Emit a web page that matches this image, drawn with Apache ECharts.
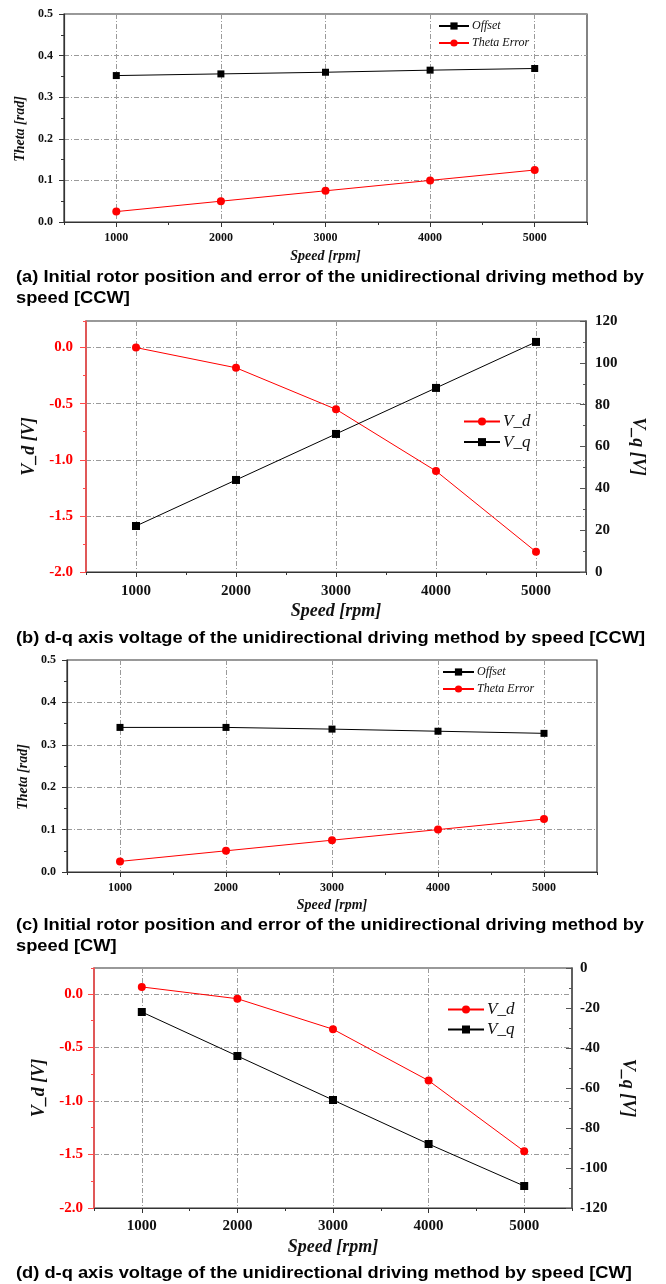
<!DOCTYPE html>
<html><head><meta charset="utf-8">
<script src="https://cdn.jsdelivr.net/npm/echarts@6/dist/echarts.min.js"></script>
<style>html,body{margin:0;padding:0;background:#fff}#c{width:666px;height:1284px}</style>
</head><body><div id="c"></div>
<script>
// ---- data ----
const speeds = [1000, 2000, 3000, 4000, 5000];
const xTicks = [1000, 2000, 3000, 4000, 5000];
const offsetCCW = [0.352, 0.356, 0.360, 0.365, 0.369];
const thetaErrCCW = [0.025, 0.050, 0.075, 0.100, 0.125];
const vdCCW = [0.0, -0.18, -0.55, -1.10, -1.82];
const vqCCW = [22, 44, 66, 88, 110];
const offsetCW = [0.341, 0.341, 0.337, 0.332, 0.327];
const thetaErrCW = [0.025, 0.050, 0.075, 0.100, 0.125];
const vdCW = [0.065, -0.045, -0.33, -0.81, -1.47];
const vqCW = [-22, -44, -66, -88, -109];
const captionA1 = '(a) Initial rotor position and error of the unidirectional driving method by';
const captionA2 = 'speed [CCW]';
const captionB = '(b) d-q axis voltage of the unidirectional driving method by speed [CCW]';
const captionC1 = '(c) Initial rotor position and error of the unidirectional driving method by';
const captionC2 = 'speed [CW]';
const captionD = '(d) d-q axis voltage of the unidirectional driving method by speed [CW]';

const pairs = (ys) => speeds.map((s, i) => [s, ys[i]]);
const SERIF = '"Liberation Serif", "Times New Roman", serif';
const RED = '#ff0000';
const GRIDC = '#9a9a9a';
const dashT = [5, 2, 1, 2];

// caption horizontal condensing
const cv = document.createElement('canvas').getContext('2d');
const capFont = 'bold 17px "Liberation Sans", Arial, sans-serif';
cv.font = capFont;
const capScale = 629 / cv.measureText(captionB).width;

function mainX(gi, fs, margin, nameGap, nameFs) {
  return {
    type: 'value', gridIndex: gi, position: 'bottom', min: 500, max: 5500,
    axisLine: {show: true, onZero: false, lineStyle: {color: '#333', width: 1.2}},
    axisTick: {show: true, customValues: xTicks, length: 5, lineStyle: {color: '#333'}},
    axisLabel: {customValues: xTicks, formatter: v => String(v), margin: margin, color: '#111', fontFamily: SERIF, fontWeight: 'bold', fontSize: fs},
    splitLine: {show: true, lineStyle: {color: GRIDC, type: dashT, width: 1}},
    name: 'Speed [rpm]', nameLocation: 'middle', nameGap: nameGap,
    nameTextStyle: {fontFamily: SERIF, fontWeight: 'bold', fontStyle: 'italic', fontSize: nameFs, color: '#111'}
  };
}
function minorX(gi) {
  return {
    type: 'value', gridIndex: gi, position: 'bottom', min: 500, max: 5500, interval: 500,
    axisLine: {show: false, onZero: false}, axisLabel: {show: false}, splitLine: {show: false},
    axisTick: {show: true, length: 3, lineStyle: {color: '#333'}}
  };
}
function thetaY(gi, nameGap) {
  return {
    type: 'value', gridIndex: gi, position: 'left', min: 0, max: 0.5, interval: 0.1,
    axisLine: {show: true, onZero: false, lineStyle: {color: '#333', width: 1.2}},
    axisTick: {show: true, length: 5, lineStyle: {color: '#333'}},
    minorTick: {show: true, splitNumber: 2, length: 3, lineStyle: {color: '#333'}},
    axisLabel: {formatter: v => v.toFixed(1), margin: 11, color: '#111', fontFamily: SERIF, fontWeight: 'bold', fontSize: 12},
    splitLine: {show: true, lineStyle: {color: GRIDC, type: dashT, width: 1}},
    name: 'Theta [rad]', nameLocation: 'middle', nameGap: nameGap,
    nameTextStyle: {fontFamily: SERIF, fontWeight: 'bold', fontStyle: 'italic', fontSize: 14, color: '#111', padding: [0, 22, 0, 0]}
  };
}
function vdY(gi, mx, margin, nameGap) {
  return {
    type: 'value', gridIndex: gi, position: 'left', min: -2, max: mx, interval: 0.5,
    axisLine: {show: true, onZero: false, lineStyle: {color: '#ff4a4a', width: 1.5}},
    axisTick: {show: true, length: 6, lineStyle: {color: '#ff4a4a'}},
    axisLabel: {formatter: v => v.toFixed(1), showMaxLabel: false, margin: margin, color: RED, fontFamily: SERIF, fontWeight: 'bold', fontSize: 15},
    splitLine: {show: true, lineStyle: {color: GRIDC, type: dashT, width: 1}},
    name: 'V_d [V]', nameLocation: 'middle', nameGap: nameGap,
    nameTextStyle: {fontFamily: SERIF, fontWeight: 'bold', fontStyle: 'italic', fontSize: 18, color: '#111'}
  };
}
function vdMinorY(gi, mx) {
  return {
    type: 'value', gridIndex: gi, position: 'left', min: -2, max: mx, interval: 0.25,
    axisLine: {show: false, onZero: false}, axisLabel: {show: false}, splitLine: {show: false},
    axisTick: {show: true, length: 3, lineStyle: {color: '#ff4a4a'}}
  };
}
function vqY(gi, mn, mx, margin, nameGap) {
  return {
    type: 'value', gridIndex: gi, position: 'right', min: mn, max: mx, interval: 20,
    axisLine: {show: true, onZero: false, lineStyle: {color: '#555', width: 1.5}},
    axisTick: {show: true, inside: true, length: 6, lineStyle: {color: '#555'}},
    minorTick: {show: true, splitNumber: 2, length: 3, lineStyle: {color: '#555'}},
    axisLabel: {margin: margin, color: '#111', fontFamily: SERIF, fontWeight: 'bold', fontSize: 15},
    splitLine: {show: false},
    name: 'V_q [V]', nameLocation: 'middle', nameGap: nameGap, nameRotate: -90,
    nameTextStyle: {fontFamily: SERIF, fontWeight: 'bold', fontStyle: 'italic', fontSize: 18, color: '#111'}
  };
}
function ser(name, xi, yi, data, color, symbol, size) {
  return {
    name: name, type: 'line', xAxisIndex: xi, yAxisIndex: yi, data: pairs(data),
    symbol: symbol, symbolSize: size, showSymbol: true,
    lineStyle: {color: color, width: 1}, itemStyle: {color: color},
    emphasis: {disabled: true}, animation: false
  };
}
function legend(names, left, top, itemW, itemH, gap, fs) {
  return {
    data: names, orient: 'vertical', left: left, top: top, itemWidth: itemW, itemHeight: itemH, itemGap: gap,
    padding: 0, selectedMode: false,
    textStyle: {fontFamily: SERIF, fontStyle: 'italic', fontSize: fs, color: '#111', padding: [0, 0, 0, -2]}
  };
}
function cap(text, y) {
  return {
    type: 'text', x: 16, y: y, scaleX: capScale, scaleY: 1, silent: true,
    style: {text: text, font: capFont, fill: '#000', textVerticalAlign: 'middle', verticalAlign: 'middle'}
  };
}
const gridBase = {show: true, borderColor: '#333', borderWidth: 1.2, backgroundColor: 'transparent', containLabel: false, outerBoundsMode: 'none'};

const option = {
  animation: false,
  backgroundColor: '#fff',
  grid: [
    Object.assign({left: 64, top: 14, width: 523, height: 208}, gridBase),
    Object.assign({left: 86, top: 321, width: 500, height: 251}, gridBase),
    Object.assign({left: 67, top: 660, width: 530, height: 212}, gridBase),
    Object.assign({left: 94, top: 968, width: 478, height: 240}, gridBase)
  ],
  xAxis: [
    mainX(0, 12, 10, 27, 14), minorX(0),
    mainX(1, 15, 12, 30, 18), minorX(1),
    mainX(2, 12, 10, 26, 14), minorX(2),
    mainX(3, 15, 11, 30, 18), minorX(3)
  ],
  yAxis: [
    thetaY(0, 36),
    vdY(1, 0.237, 13, 46), vqY(1, 0, 120, 9, 43),
    thetaY(2, 37),
    vdY(3, 0.242, 11, 45), vqY(3, -120, 0, 8, 44),
    vdMinorY(1, 0.237), vdMinorY(3, 0.242)
  ],
  legend: [
    legend(['Offset', 'Theta Error'], 438, 20, 30, 9, 5, 12),
    legend(['V_d', 'V_q'], 463, 413, 36, 10, 3.6, 17),
    legend(['Offset', 'Theta Error'], 442, 666, 31, 9, 5, 12),
    legend(['V_d', 'V_q'], 447, 1001, 36, 10, 3, 17)
  ],
  series: [
    ser('Offset', 0, 0, offsetCCW, '#000', 'rect', 7),
    ser('Theta Error', 0, 0, thetaErrCCW, RED, 'circle', 8),
    ser('V_d', 2, 1, vdCCW, RED, 'circle', 8),
    ser('V_q', 2, 2, vqCCW, '#000', 'rect', 8),
    ser('Offset', 4, 3, offsetCW, '#000', 'rect', 7),
    ser('Theta Error', 4, 3, thetaErrCW, RED, 'circle', 8),
    ser('V_d', 6, 4, vdCW, RED, 'circle', 8),
    ser('V_q', 6, 5, vqCW, '#000', 'rect', 8)
  ],
  graphic: [
    cap(captionA1, 277), cap(captionA2, 298),
    cap(captionB, 638),
    cap(captionC1, 925), cap(captionC2, 946),
    cap(captionD, 1273)
  ]
};
const chart = echarts.init(document.getElementById('c'), null, {renderer: 'canvas'});
chart.setOption(option);
</script>
</body></html>
